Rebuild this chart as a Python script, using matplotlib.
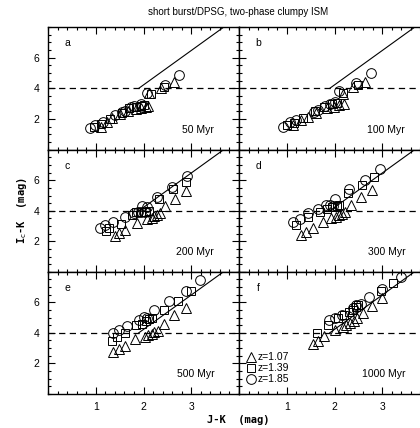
import numpy as np
from matplotlib import pyplot as plt
from matplotlib.ticker import MultipleLocator

plt.rcParams['font.family'] = ['Liberation Sans', 'DejaVu Sans']

# (J-K, Ic-K) pairs, per panel and redshift
a_tri = [(1.1, 1.5), (1.24, 1.8), (1.34, 2.05), (1.5, 2.3), (1.68, 2.55), (1.85, 2.65), (1.95, 2.7),
         (2.05, 2.75), (2.1, 2.85), (2.12, 3.7), (2.36, 4.0), (2.64, 4.43)]
a_sq = [(0.97, 1.5), (1.12, 1.7), (1.3, 2.0), (1.55, 2.4), (1.7, 2.7), (1.85, 2.8), (1.95, 2.85),
        (2.02, 2.9), (2.15, 3.6), (2.42, 4.1)]
a_circ = [(0.88, 1.4), (0.99, 1.6), (1.16, 1.82), (1.41, 2.25), (1.55, 2.45), (1.62, 2.5), (1.73, 2.75),
          (1.8, 2.85), (1.95, 2.95), (2.08, 3.7), (2.46, 4.2), (2.74, 4.9)]

b_tri = [(1.13, 1.6), (1.3, 1.93), (1.44, 2.15), (1.62, 2.4), (1.85, 2.7), (1.98, 2.8), (2.1, 2.9),
         (2.2, 3.0), (2.17, 3.65), (2.38, 4.1), (2.63, 4.43)]
b_sq = [(1.0, 1.6), (1.15, 1.75), (1.35, 2.05), (1.6, 2.5), (1.78, 2.75), (1.95, 2.95), (2.05, 3.05),
        (2.17, 3.7), (2.5, 4.25)]
b_circ = [(0.92, 1.5), (1.06, 1.82), (1.2, 1.93), (1.58, 2.47), (1.65, 2.58), (1.8, 2.85), (1.9, 3.0),
          (2.0, 3.1), (2.1, 3.8), (2.45, 4.33), (2.76, 4.98)]

c_tri = [(1.41, 2.35), (1.48, 2.52), (1.62, 2.78), (1.87, 3.22), (2.08, 3.44), (2.17, 3.55), (2.22, 3.65),
         (2.28, 3.75), (2.34, 3.85), (2.46, 4.3), (2.67, 4.8), (2.9, 5.3)]
c_sq = [(1.22, 2.7), (1.27, 2.85), (1.52, 3.17), (1.75, 3.75), (1.85, 3.9), (1.95, 3.95), (2.05, 3.95),
        (2.12, 4.0), (2.32, 4.8), (2.62, 5.45), (2.9, 5.9)]
c_circ = [(1.09, 2.85), (1.2, 3.07), (1.37, 3.28), (1.62, 3.6), (1.8, 3.83), (1.88, 3.95), (1.95, 3.95),
          (2.03, 3.95), (1.97, 4.3), (2.07, 4.25), (2.29, 4.92), (2.6, 5.57), (2.92, 6.27)]

d_tri = [(1.3, 2.41), (1.41, 2.63), (1.55, 2.85), (1.76, 3.28), (1.93, 3.5), (2.03, 3.6), (2.1, 3.7),
         (2.16, 3.8), (2.22, 3.9), (2.35, 4.37), (2.56, 4.92), (2.78, 5.35)]
d_sq = [(1.2, 3.07), (1.44, 3.6), (1.69, 3.95), (1.85, 4.15), (1.95, 4.25), (2.05, 4.3), (2.1, 4.4),
        (2.28, 5.18), (2.58, 5.68), (2.83, 6.22)]
d_circ = [(1.13, 3.28), (1.27, 3.44), (1.44, 3.83), (1.65, 4.1), (1.83, 4.37), (1.9, 4.35), (1.97, 4.3),
          (2.0, 4.8), (2.31, 5.46), (2.63, 6.05), (2.95, 6.72)]

e_tri = [(1.37, 2.72), (1.48, 2.94), (1.62, 3.15), (1.83, 3.59), (2.04, 3.74), (2.1, 3.85), (2.17, 3.95),
         (2.23, 4.05), (2.3, 4.15), (2.43, 4.61), (2.64, 5.16), (2.88, 5.64)]
e_sq = [(1.34, 3.46), (1.44, 3.74), (1.61, 3.96), (1.85, 4.5), (1.96, 4.6), (2.05, 4.75), (2.12, 4.9),
        (2.18, 4.95), (2.43, 5.48), (2.73, 6.07), (2.99, 6.72)]
e_circ = [(1.37, 3.96), (1.48, 4.18), (1.66, 4.46), (1.9, 4.83), (2.0, 5.05), (2.07, 5.0), (2.22, 5.48),
          (2.53, 6.07), (2.88, 6.72), (3.19, 7.44)]

f_tri = [(1.55, 3.3), (1.65, 3.44), (1.79, 3.77), (2.0, 4.18), (2.17, 4.35), (2.25, 4.5), (2.32, 4.65),
         (2.4, 4.8), (2.48, 4.95), (2.59, 5.27), (2.78, 5.77), (3.0, 6.29)]
f_sq = [(1.63, 4.02), (1.86, 4.5), (2.08, 4.98), (2.19, 5.16), (2.3, 5.35), (2.38, 5.5), (2.45, 5.7),
        (2.5, 5.85), (2.97, 6.72), (3.23, 7.28)]
f_circ = [(1.88, 4.83), (2.0, 4.98), (2.15, 5.16), (2.38, 5.64), (2.45, 5.8), (2.56, 5.87), (2.73, 6.35),
          (3.0, 6.9), (3.39, 7.63)]

panel_letters = ["a", "b", "c", "d", "e", "f"]
panel_ages = ["50 Myr", "100 Myr", "200 Myr", "300 Myr", "500 Myr", "1000 Myr"]
redshift_labels = ["z=1.07", "z=1.39", "z=1.85"]
panels = [(a_tri, a_sq, a_circ), (b_tri, b_sq, b_circ), (c_tri, c_sq, c_circ),
          (d_tri, d_sq, d_circ), (e_tri, e_sq, e_circ), (f_tri, f_sq, f_circ)]

# reference relation and threshold
line_x = np.array([1.9, 4.0])
line_y = 4 + 2.25 * (line_x - 1.9)
threshold = 4.0

fig = plt.figure(figsize=(4.2, 4.28), dpi=100)

col_left = [48 / 420, 239 / 420]
row_bottom = [1 - 149.5 / 428, 1 - 272 / 428, 1 - 394 / 428]
w, h = 191 / 420, 122.3 / 428

markers = ["^", "s", "o"]
msizes = [7, 5.8, 7]

for i, (series, letter, age) in enumerate(zip(panels, panel_letters, panel_ages)):
    row, col = divmod(i, 2)
    ax = fig.add_axes([col_left[col], row_bottom[row], w, h])

    ax.axhline(threshold, color="black", ls=(0, (5, 3.5)), lw=0.9)
    ax.plot(line_x, line_y, color="black", lw=0.8)

    for pts, m, ms, lab in zip(series, markers, msizes, redshift_labels):
        xy = np.array(pts)
        ax.plot(xy[:, 0], xy[:, 1], ls="none", marker=m, ms=ms, mfc="none", mec="black", mew=0.7, label=lab)

    ax.set_xlim(0, 4)
    ax.set_ylim(0, 8)
    ax.xaxis.set_major_locator(MultipleLocator(1))
    ax.xaxis.set_minor_locator(MultipleLocator(0.2))
    ax.yaxis.set_major_locator(MultipleLocator(2))
    ax.yaxis.set_minor_locator(MultipleLocator(0.5))
    ax.tick_params(which="both", direction="in", top=True, right=True, labelsize=7.5, width=0.8, pad=6)
    ax.tick_params(which="major", length=5)
    ax.tick_params(which="minor", length=2.5)
    for sp in ax.spines.values():
        sp.set_linewidth(1.0)

    ax.set_xticks([1, 2, 3])
    if row < 2:
        ax.tick_params(labelbottom=False)
    if col == 1:
        ax.tick_params(labelleft=False)
    else:
        ax.set_yticks([2, 4, 6])

    ax.text(0.1, 0.87, letter, transform=ax.transAxes, fontsize=7.5, ha="center", va="center")
    ax.text(0.87, 0.16, age, transform=ax.transAxes, fontsize=7.5, ha="right", va="center")

    if letter == "f":
        ax.legend(loc="lower left", bbox_to_anchor=(-0.01, 0.02), frameon=False, fontsize=7.5,
                  handletextpad=0.1, handlelength=1.2, borderpad=0.2, labelspacing=0.1)

fig.text(0.567, 0.972, "short burst/DPSG, two-phase clumpy ISM", ha="center", va="center", fontsize=7)
fig.text(0.568, 0.018, "J-K  (mag)", ha="center", va="center", fontsize=7.5,
         family="DejaVu Sans Mono", weight="bold")
fig.text(0.052, 0.508, r"I$_{\rm c}$-K  (mag)", ha="center", va="center", rotation=90, fontsize=7.5,
         family="DejaVu Sans Mono", weight="bold")

fig.savefig("out.png", dpi=100)
